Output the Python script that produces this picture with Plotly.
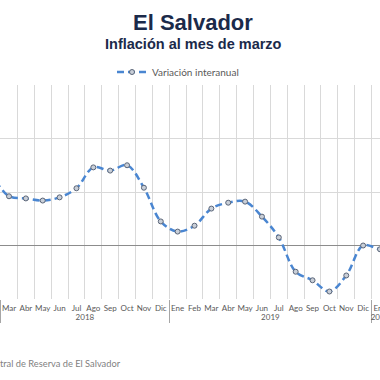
import plotly.graph_objects as go

# Data
years = ["2018"] * 12 + ["2019"] * 12 + ["2020"] * 3
months_names = ["Ene", "Feb", "Mar", "Abr", "May", "Jun", "Jul", "Ago", "Sep", "Oct", "Nov", "Dic"]
months = months_names * 2 + ["Ene", "Feb", "Mar"]
variacion = [1.10, 1.22, 0.92, 0.88, 0.84, 0.90, 1.07, 1.46, 1.40, 1.50, 1.08, 0.45,
             0.26, 0.37, 0.69, 0.80, 0.82, 0.54, 0.15, -0.49, -0.65, -0.86, -0.56, 0.00,
             -0.07, -0.10, 0.00]

W, H = 380, 380
top, bottom = 85, 299

fig = go.Figure()
fig.add_trace(go.Scatter(
    x=[years, months], y=variacion,
    mode="lines+markers",
    name="Variación interanual",
    line=dict(color="#4A86D1", width=2.5, dash="7px,4px", shape="spline", smoothing=1),
    marker=dict(symbol="circle", size=5, color="#C9CFD8", line=dict(color="#5A6578", width=1)),
    cliponaxis=True,
))

fig.update_layout(
    width=W, height=H,
    margin=dict(l=0, r=0, t=top, b=H - bottom, pad=0, autoexpand=False),
    paper_bgcolor="white", plot_bgcolor="white",
    showlegend=True,
    legend=dict(orientation="h", x=112 / W, xanchor="left", y=(bottom - 72) / (bottom - top), yanchor="middle",
                font=dict(family="Lato", size=10, color="#595959"), bgcolor="rgba(0,0,0,0)"),
    xaxis=dict(
        type="multicategory",
        range=[1.466, 24.0],
        tickson="boundaries",
        automargin=False,
        tickangle=0,
        ticklabelstandoff=3,
        showgrid=True, gridcolor="#D9D9D9", gridwidth=1,
        showline=False, ticks="",
        showdividers=True, dividercolor="#A6A6A6", dividerwidth=1,
        tickfont=dict(family="Lato", size=8, color="#595959"),
        zeroline=False,
    ),
    yaxis=dict(
        range=[-1, 3], dtick=1, tick0=0,
        automargin=False,
        showgrid=True, gridcolor="#D9D9D9", gridwidth=1,
        zeroline=True, zerolinecolor="#8C8C8C", zerolinewidth=1,
        showticklabels=False, ticks="", showline=False,
    ),
    annotations=[
        dict(text="<b>El Salvador</b>", xref="paper", yref="paper", x=193 / W, y=(bottom - 22) / (bottom - top),
             xanchor="center", yanchor="middle", showarrow=False,
             font=dict(family="Liberation Sans", size=22, color="#1B2A4A")),
        dict(text="<b>Inflación al mes de marzo</b>", xref="paper", yref="paper", x=193 / W, y=(bottom - 44) / (bottom - top),
             xanchor="center", yanchor="middle", showarrow=False,
             font=dict(family="Liberation Sans", size=14.5, color="#1B2A4A")),
        dict(text="Fuente: Banco Central de Reserva de El Salvador", xref="paper", yref="paper",
             x=123 / W, y=(bottom - 363) / (bottom - top), xanchor="right", yanchor="middle", showarrow=False,
             font=dict(family="Lato", size=9.3, color="#7F7F7F")),
    ],
)

fig.write_html("out.html", config={"displayModeBar": False},
               post_script="document.body.style.margin='0';")
